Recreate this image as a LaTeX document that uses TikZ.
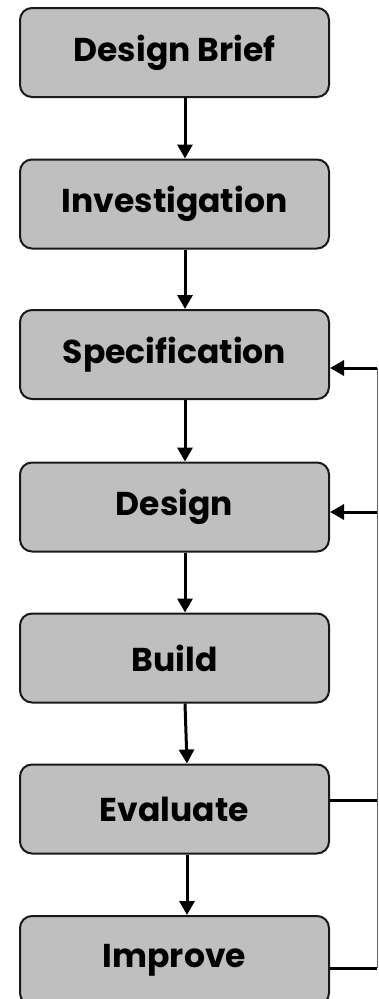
\documentclass[tikz,border=0pt]{standalone}
\usepackage{fontspec}
\setmainfont{Poppins}
\usetikzlibrary{arrows.meta}
\begin{document}
\begin{tikzpicture}[x=1pt,y=1pt,
  stagebox/.style={draw=black!90,line width=2pt,fill=black!25,rounded corners=12pt,
    minimum width=309pt,minimum height=89pt,inner sep=0pt,
    font=\fontsize{33}{36}\selectfont\bfseries},
  flow/.style={line width=3pt,-{Triangle[width=15pt,length=14pt]}},
  back/.style={line width=3pt},
  rail/.style={line width=1pt,draw=black!60}]
\useasboundingbox (0,0) rectangle (378,-999);
\node[stagebox] (db) at (174.5,-52.5) {Design Brief};
\node[stagebox] (inv) at (174.5,-204) {Investigation};
\node[stagebox] (spec) at (174.5,-354.5) {Specification};
\node[stagebox] (des) at (174.5,-507) {Design};
\node[stagebox] (bld) at (174.5,-658) {Build};
\node[stagebox] (eval) at (174.5,-809) {Evaluate};
\node[stagebox] (imp) at (174.5,-960.5) {Improve};
\foreach \a/\b in {db/inv,inv/spec,spec/des,des/bld}
  \draw[flow] ([xshift=10.5pt]\a.south) -- ([xshift=10.5pt]\b.north);
\draw[flow] ([xshift=10.5pt]bld.south) -- ([xshift=12.5pt]eval.north);
\draw[flow] ([xshift=12.5pt]eval.south) -- ([xshift=12.5pt]imp.north);
\coordinate (r1) at (377,-368);
\coordinate (r2) at (377,-512);
\coordinate (r3) at (377,-800);
\coordinate (r4) at (377,-968);
\draw[rail] (r1) -- (r4);
\draw[flow] (r1) -- (r1 -| spec.east);
\draw[flow] (r2) -- (r2 -| des.east);
\draw[back] (eval.east |- r3) -- (r3);
\draw[back] (imp.east |- r4) -- (r4);
\end{tikzpicture}
\end{document}
